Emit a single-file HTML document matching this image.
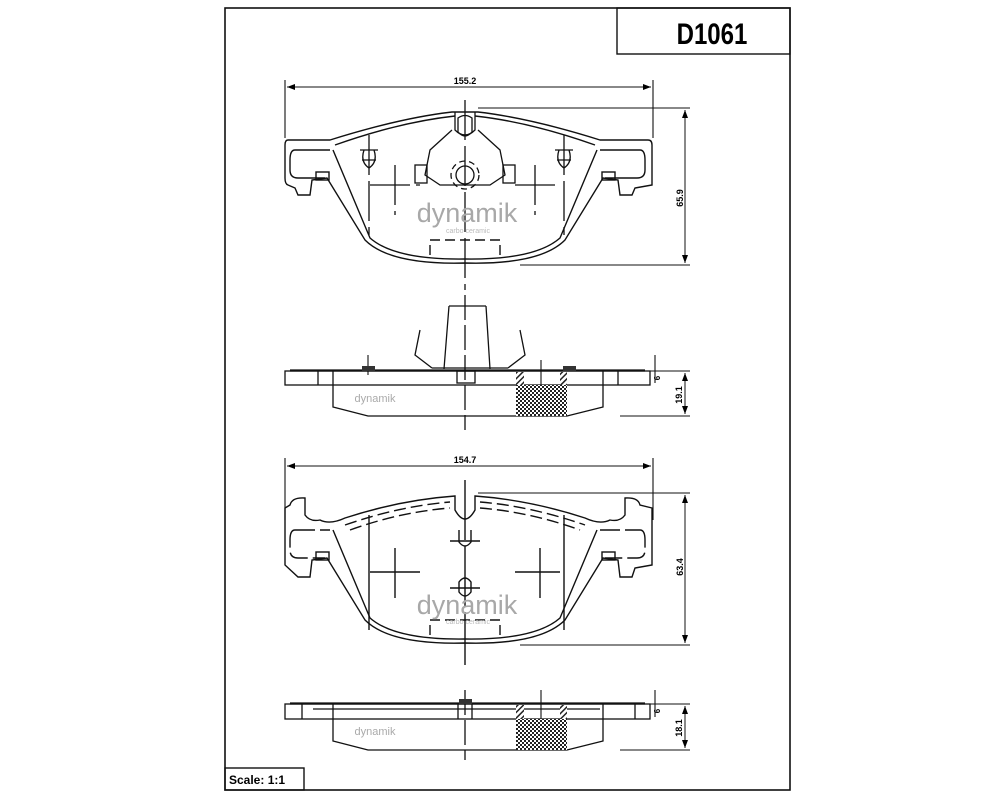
<!DOCTYPE html>
<html><head><meta charset="utf-8"><style>
html,body{margin:0;padding:0;background:#fff;}
svg{display:block}
text{font-family:"Liberation Sans",sans-serif;}
</style></head><body>
<svg width="1000" height="800" viewBox="0 0 1000 800" xmlns="http://www.w3.org/2000/svg">
<defs>
<pattern id="chk" width="4" height="4" patternUnits="userSpaceOnUse">
<rect width="4" height="4" fill="#fff"/><rect width="2" height="2" fill="#222"/><rect x="2" y="2" width="2" height="2" fill="#222"/>
</pattern>
<pattern id="hat" width="4" height="4" patternUnits="userSpaceOnUse" patternTransform="rotate(45)">
<rect width="4" height="4" fill="#fff"/><rect width="1.5" height="4" fill="#222"/>
</pattern>
<marker id="ar" markerWidth="8" markerHeight="6" refX="8" refY="3" orient="auto-start-reverse"><path d="M0,0 L8,3 L0,6 Z" fill="#000"/></marker>
</defs>
<g fill="none" stroke="#111" stroke-width="1.6">
<rect x="225" y="8" width="565" height="782"/>
<rect x="617" y="8" width="173" height="46" stroke-width="1.4"/>
<rect x="225" y="768" width="79" height="22" stroke-width="1.4"/>
</g>
<text x="712" y="44" font-size="30" font-weight="bold" text-anchor="middle" transform="translate(712,0) scale(0.8,1) translate(-712,0)">D1061</text>
<text x="229" y="784" font-size="12" font-weight="bold">Scale: 1:1</text>

<!-- ===== Pad 1 top view ===== -->
<g fill="none" stroke="#111" stroke-width="1.4">
<path d="M288,140 L330,140 Q400,118 452,112 L478,112 Q530,118 600,140 L648,140 Q652,140 652,145 L652,185 L635,188 L632,195 L620,195 L618,180 L603,178 L565,240 Q540,265 465,263 Q390,265 365,240 L327,178 L312,180 L310,195 L298,195 L295,188 L288,185 Q285,184 285,178 L285,145 Q285,140 288,140 Z"/>
<path d="M335,145 Q400,122 455,116 M475,116 Q530,122 595,145 M333,150 L370,238 Q395,260 465,259 Q535,260 560,238 L597,150"/>
<path d="M295,150 L330,150 M600,150 L640,150 M295,150 Q290,150 290,160 L290,170 Q290,178 298,178 L325,178 M640,150 Q645,150 645,160 L645,170 Q645,178 637,178 L605,178"/>
<rect x="316" y="172" width="13" height="8"/><rect x="602" y="172" width="13" height="8"/>
<path d="M430,255 L430,240 L500,240 L500,255" stroke-dasharray="10,5"/>
</g>
<g fill="none" stroke="#111" stroke-width="1.3">
<path d="M455,112 L455,130 Q465,140 475,130 L475,112" />
<path d="M458,118 Q465,113 472,118 L472,132 Q465,140 458,132 Z"/>
<path d="M452,130 L430,150 L425,175 L440,185 L490,185 L505,175 L500,150 L478,130"/>
<rect x="415" y="165" width="12" height="18"/><rect x="503" y="165" width="12" height="18"/>
<circle cx="465" cy="175" r="9"/><circle cx="465" cy="175" r="14" stroke-dasharray="6,4"/>
<path d="M360,150 L378,150 M362,160 L376,160 M364,150 Q360,162 369,168 Q378,162 374,150 M555,150 L573,150 M557,160 L571,160 M559,150 Q555,162 564,168 Q573,162 569,150"/>
<path d="M369,135 L369,235 M564,135 L564,235 M370,185 L420,185 M515,185 L560,185 M395,165 L395,215 M535,165 L535,215" stroke-dasharray="40,6"/>
<path d="M465,100 L465,290" stroke-dasharray="40,6"/>
<path d="M285,80 L285,138 M653,80 L653,138 M478,108 L690,108 M520,265 L690,265" stroke-width="1.1"/>
<path d="M287,87 L651,87" marker-start="url(#ar)" marker-end="url(#ar)" stroke-width="1"/>
<path d="M685,110 L685,263" marker-start="url(#ar)" marker-end="url(#ar)" stroke-width="1"/>
</g>
<text x="465" y="84" font-size="9" font-weight="bold" text-anchor="middle">155.2</text>
<text transform="translate(683,198) rotate(-90)" font-size="9" font-weight="bold" text-anchor="middle">65.9</text>
<text x="467" y="222" font-size="27" fill="#a8a8a8" text-anchor="middle">dynamik</text>
<text x="468" y="233" font-size="7" fill="#bbb" text-anchor="middle">carbo ceramic</text>

<!-- ===== Side view 1 ===== -->
<g fill="none" stroke="#111" stroke-width="1.3">
<rect x="285" y="371" width="365" height="14"/>
<path d="M290,370.5 L645,370.5" stroke-width="2.2"/>
<path d="M318,371 L318,385 M333,371 L333,385 M603,371 L603,385 M618,371 L618,385"/>
<path d="M333,385 L333,407 L368,416 L567,416 L603,407 L603,385"/>
<path d="M449,306 L444,369 M486,306 L490,369 M449,306 L486,306 M420,330 L415,355 L432,368 M520,330 L525,355 L508,368 M432,368 L508,368"/>
<rect x="457" y="371" width="18" height="12"/>
<path d="M465,295 L465,430" stroke-dasharray="25,5"/>
<path d="M541,360 L541,395 M368,355 L368,375 M655,355 L655,383 M620,371 L690,371 M620,416 L690,416" stroke-width="1.1"/>
<path d="M685,373 L685,414" marker-start="url(#ar)" marker-end="url(#ar)" stroke-width="1"/>
</g>
<rect x="516" y="385" width="51" height="31" fill="url(#chk)"/>
<rect x="516" y="372" width="8" height="13" fill="url(#hat)"/>
<rect x="560" y="372" width="7" height="13" fill="url(#hat)"/>
<rect x="362" y="366" width="13" height="5" fill="#333"/>
<rect x="563" y="366" width="13" height="5" fill="#333"/>
<text transform="translate(660,378) rotate(-90)" font-size="8" font-weight="bold" text-anchor="middle">6</text>
<text transform="translate(682,395) rotate(-90)" font-size="9" font-weight="bold" text-anchor="middle">19.1</text>
<text x="375" y="402" font-size="11" fill="#aaa" text-anchor="middle">dynamik</text>

<!-- ===== Pad 2 top view ===== -->
<g fill="none" stroke="#111" stroke-width="1.4">
<path d="M290,505 Q292,497 305,498 L305,515 Q310,522 320,520 Q330,525 345,518 Q400,500 455,496 L455,510 Q465,528 475,510 L475,496 Q530,500 585,518 Q600,525 610,520 Q620,522 625,515 L625,498 Q638,497 640,505 L652,508 L652,565 L635,568 L632,577 L620,577 L618,560 L603,558 L565,620 Q540,645 465,643 Q390,645 365,620 L327,558 L312,560 L310,577 L298,577 L285,565 L285,508 Z"/>
<path d="M333,530 L370,618 Q395,640 465,639 Q535,640 560,618 L597,530"/>
<path d="M345,525 Q400,506 450,502 M480,502 Q530,506 585,525 M350,530 Q400,512 450,508 M480,508 Q530,512 580,530" stroke-dasharray="12,5"/>
<path d="M295,530 L330,530 M600,530 L640,530 M295,530 Q290,530 290,540 L290,550 Q290,558 298,558 L325,558 M640,530 Q645,530 645,540 L645,550 Q645,558 637,558 L605,558" stroke-dasharray="20,5"/>
<rect x="316" y="552" width="13" height="8"/><rect x="602" y="552" width="13" height="8"/>
<path d="M430,635 L430,620 L500,620 L500,635" stroke-dasharray="10,5"/>
<path d="M459,530 L459,542 Q465,550 471,542 L471,530 M450,541 L480,541"/>
<path d="M459,582 Q465,574 471,582 L471,592 Q465,600 459,592 Z M450,588 L480,588"/>
<path d="M369,515 L369,630 M564,515 L564,630 M370,572 L420,572 M515,572 L560,572 M395,548 L395,598 M540,548 L540,598"/>
<path d="M465,480 L465,665" stroke-dasharray="60,6"/>
<path d="M285,458 L285,520 M653,458 L653,520 M478,493 L690,493 M520,645 L690,645" stroke-width="1.1"/>
<path d="M287,466 L651,466" marker-start="url(#ar)" marker-end="url(#ar)" stroke-width="1"/>
<path d="M685,495 L685,643" marker-start="url(#ar)" marker-end="url(#ar)" stroke-width="1"/>
</g>
<text x="465" y="463" font-size="9" font-weight="bold" text-anchor="middle">154.7</text>
<text transform="translate(683,567) rotate(-90)" font-size="9" font-weight="bold" text-anchor="middle">63.4</text>
<text x="467" y="614" font-size="27" fill="#a8a8a8" text-anchor="middle">dynamik</text>
<text x="468" y="624" font-size="7" fill="#bbb" text-anchor="middle">carbo ceramic</text>

<!-- ===== Side view 2 ===== -->
<g fill="none" stroke="#111" stroke-width="1.3">
<rect x="285" y="704" width="365" height="15"/>
<path d="M290,703.5 L645,703.5" stroke-width="2.2"/>
<path d="M302,704 L302,719 M333,704 L333,719 M603,704 L603,719 M635,704 L635,719 M313,709 L600,709 M458,704 L458,719 M472,704 L472,719"/>
<path d="M333,719 L333,741 L368,750 L567,750 L603,741 L603,719"/>
<path d="M465,690 L465,760" stroke-dasharray="25,5"/>
<path d="M541,690 L541,730 M655,690 L655,717 M620,704 L690,704 M620,750 L690,750" stroke-width="1.1"/>
<path d="M685,706 L685,748" marker-start="url(#ar)" marker-end="url(#ar)" stroke-width="1"/>
</g>
<rect x="516" y="719" width="51" height="31" fill="url(#chk)"/>
<rect x="516" y="705" width="8" height="14" fill="url(#hat)"/>
<rect x="560" y="705" width="7" height="14" fill="url(#hat)"/>
<rect x="459" y="699" width="13" height="5" fill="#333"/>
<text transform="translate(660,711) rotate(-90)" font-size="8" font-weight="bold" text-anchor="middle">6</text>
<text transform="translate(682,728) rotate(-90)" font-size="9" font-weight="bold" text-anchor="middle">18.1</text>
<text x="375" y="735" font-size="11" fill="#aaa" text-anchor="middle">dynamik</text>
</svg>
</body></html>
